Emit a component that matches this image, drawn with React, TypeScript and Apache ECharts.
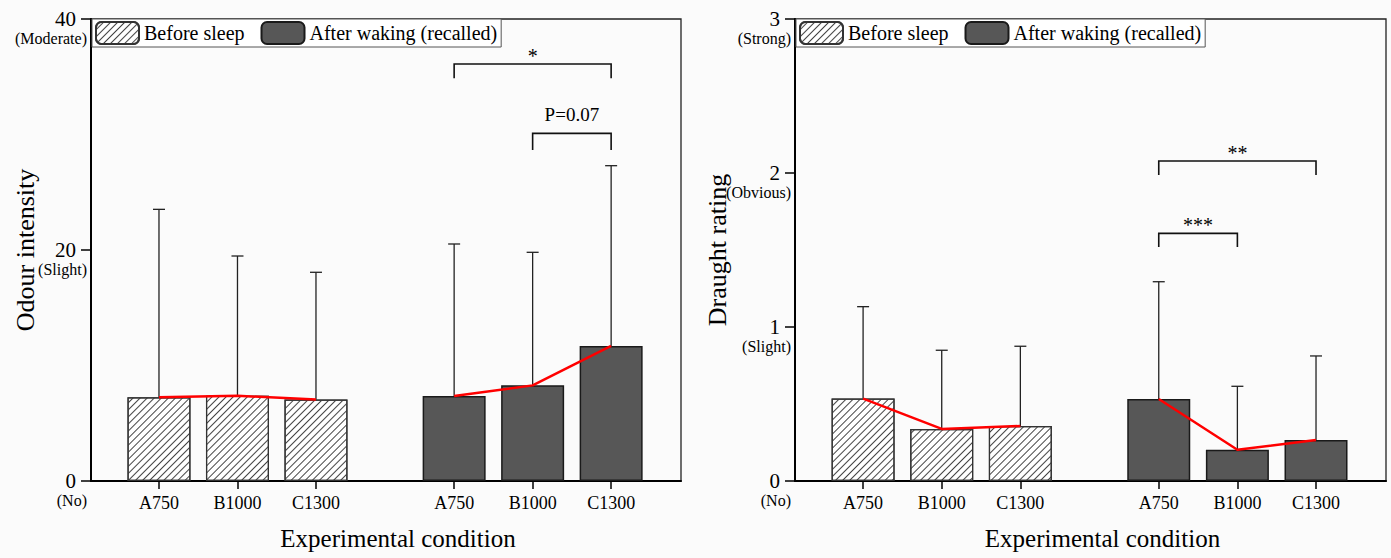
import React, { useEffect, useRef } from 'react';
import * as echarts from 'echarts';

// ---------- data ----------
const categories = ['A750', 'B1000', 'C1300'];
const seriesNames = ['Before sleep', 'After waking (recalled)'];

// Odour intensity (mean, SD shown as upper error bar)
const odourBefore = [7.25, 7.38, 7.05];
const odourBeforeSD = [16.27, 12.1, 11.02];
const odourAfter = [7.36, 8.28, 11.69];
const odourAfterSD = [13.16, 11.52, 15.61];

// Draught rating
const draughtBefore = [0.535, 0.338, 0.357];
const draughtBeforeSD = [0.597, 0.511, 0.518];
const draughtAfter = [0.532, 0.203, 0.266];
const draughtAfterSD = [0.762, 0.412, 0.546];

const odourTicks = [0, 20, 40];
const odourTickWords = ['(No)', '(Slight)', '(Moderate)'];
const draughtTicks = [0, 1, 2, 3];
const draughtTickWords = ['(No)', '(Slight)', '(Obvious)', '(Strong)'];

// significance brackets within the "after waking" group (category indices)
const odourBrackets = [
  { from: 0, to: 2, level: 36.1, foot: 34.87, text: '*' },
  { from: 1, to: 2, level: 30.1, foot: 28.66, text: 'P=0.07' },
];
const draughtBrackets = [
  { from: 0, to: 2, level: 2.078, foot: 1.987, text: '**' },
  { from: 0, to: 1, level: 1.608, foot: 1.519, text: '***' },
];

// ---------- layout ----------
const FONT = '"Liberation Serif", "Times New Roman", serif';
const groupStart = [1, 4.76];
const pos = (g: number, i: number) => groupStart[g] + i;
const allPositions = [0, 1].flatMap((g) => categories.map((_, i) => pos(g, i)));
const X_MIN = 0.134;
const X_MAX = 7.65;

function labelForPos(v: number) {
  for (let g = 0; g < 2; g++) {
    for (let i = 0; i < categories.length; i++) {
      if (Math.abs(pos(g, i) - v) < 1e-6) return categories[i];
    }
  }
  return '';
}

function buildPanel(
  idx: number,
  yName: string,
  yNameGap: number,
  yMax: number,
  yInterval: number,
  ticks: number[],
  words: string[],
  before: number[],
  beforeSD: number[],
  after: number[],
  afterSD: number[],
  brackets: { from: number; to: number; level: number; foot: number; text: string }[]
) {
  const xAxis = {
    type: 'value',
    gridIndex: idx,
    min: X_MIN,
    max: X_MAX,
    splitLine: { show: false },
    axisLine: { show: true, onZero: false, lineStyle: { color: '#000', width: 2 } },
    axisTick: {
      show: true,
      customValues: allPositions,
      length: 8,
      lineStyle: { color: '#000', width: 1.5 },
    },
    axisLabel: {
      customValues: allPositions,
      formatter: (v: number) => labelForPos(v),
      fontFamily: FONT,
      fontSize: 18,
      color: '#000',
      margin: 13,
    },
    name: 'Experimental condition',
    nameLocation: 'middle',
    nameGap: 45,
    nameMoveOverlap: false,
    nameTextStyle: { fontFamily: FONT, fontSize: 25, color: '#000', padding: [0, 0, 0, 24] },
  };
  const yAxis = {
    type: 'value',
    gridIndex: idx,
    min: 0,
    max: yMax,
    interval: yInterval,
    splitLine: { show: false },
    axisLine: { show: true, lineStyle: { color: '#000', width: 2 } },
    axisTick: { show: true, length: 10, lineStyle: { color: '#000', width: 1.5 } },
    axisLabel: {
      margin: 4,
      padding: [16, 0, 0, 0],
      formatter: (v: number) => {
        const i = ticks.indexOf(v);
        return `{a|${v}}\n{b|${i >= 0 ? words[i] : ''}}`;
      },
      rich: {
        a: { fontFamily: FONT, fontSize: 21, lineHeight: 22, color: '#000', padding: [0, 11, 0, 0] },
        b: { fontFamily: FONT, fontSize: 16, lineHeight: 16, color: '#000' },
      },
    },
    name: yName,
    nameLocation: 'middle',
    nameGap: yNameGap,
    nameRotate: 90,
    nameMoveOverlap: false,
    nameTextStyle: { fontFamily: FONT, fontSize: 26, color: '#000' },
  };

  const errData = [
    ...before.map((v, i) => [pos(0, i), v, v + beforeSD[i]]),
    ...after.map((v, i) => [pos(1, i), v, v + afterSD[i]]),
  ];

  const series: any[] = [
    {
      name: seriesNames[0],
      type: 'bar',
      xAxisIndex: idx,
      yAxisIndex: idx,
      barWidth: 63,
      barGap: '-100%',
      z: 2,
      data: before.map((v, i) => [pos(0, i), v]),
      itemStyle: {
        color: '#ffffff',
        borderColor: '#333',
        borderWidth: 1.2,
        decal: {
          symbol: 'rect',
          symbolSize: 1,
          dashArrayX: [1, 0],
          dashArrayY: [1, 3.5],
          rotation: -Math.PI / 4,
          color: '#444',
        },
      },
    },
    {
      name: seriesNames[1],
      type: 'bar',
      xAxisIndex: idx,
      yAxisIndex: idx,
      barWidth: 63,
      barGap: '-100%',
      z: 2,
      data: after.map((v, i) => [pos(1, i), v]),
      itemStyle: { color: '#575757', borderColor: '#1a1a1a', borderWidth: 1.5 },
    },
    {
      type: 'custom',
      xAxisIndex: idx,
      yAxisIndex: idx,
      z: 3,
      clip: false,
      silent: true,
      encode: { x: 0, y: [1, 2] },
      data: errData,
      renderItem: (_p: any, api: any) => {
        const x = api.value(0);
        const p0 = api.coord([x, api.value(1)]);
        const p1 = api.coord([x, api.value(2)]);
        const st = { stroke: '#222', lineWidth: 1.3 };
        return {
          type: 'group',
          children: [
            { type: 'line', shape: { x1: p0[0], y1: p0[1], x2: p1[0], y2: p1[1] }, style: st },
            { type: 'line', shape: { x1: p1[0] - 6, y1: p1[1], x2: p1[0] + 6, y2: p1[1] }, style: st },
          ],
        };
      },
    },
    ...[before, after].map((vals, g) => ({
      type: 'line',
      xAxisIndex: idx,
      yAxisIndex: idx,
      z: 4,
      symbol: 'none',
      silent: true,
      data: vals.map((v, i) => [pos(g, i), v]),
      lineStyle: { color: '#ff0000', width: 2.5 },
    })),
    {
      type: 'custom',
      xAxisIndex: idx,
      yAxisIndex: idx,
      z: 5,
      clip: false,
      silent: true,
      data: brackets.map((b) => [pos(1, b.from), pos(1, b.to), b.level, b.foot]),
      renderItem: (p: any, api: any) => {
        const b = brackets[p.dataIndex];
        const a0 = api.coord([api.value(0), api.value(3)]);
        const a1 = api.coord([api.value(0), api.value(2)]);
        const b1 = api.coord([api.value(1), api.value(2)]);
        const b0 = api.coord([api.value(1), api.value(3)]);
        const isStar = /^\*+$/.test(b.text);
        return {
          type: 'group',
          children: [
            {
              type: 'polyline',
              shape: { points: [a0, a1, b1, b0] },
              style: { stroke: '#111', lineWidth: 1.6, fill: 'none' },
            },
            {
              type: 'text',
              x: (a1[0] + b1[0]) / 2,
              y: a1[1] - (isStar ? 8 : 19),
              style: {
                text: b.text,
                fontFamily: FONT,
                fontSize: isStar ? 20 : 19,
                fill: '#000',
                align: 'center',
                verticalAlign: 'middle',
              },
            },
          ],
        };
      },
    },
  ];
  return { xAxis, yAxis, series };
}

export default function App() {
  const ref = useRef<HTMLDivElement>(null);
  useEffect(() => {
    if (!ref.current) return;
    const chart = echarts.init(ref.current, undefined, { renderer: 'svg' });
    const p0 = buildPanel(0, 'Odour intensity', 53, 40, 20, odourTicks, odourTickWords,
      odourBefore, odourBeforeSD, odourAfter, odourAfterSD, odourBrackets);
    const p1 = buildPanel(1, 'Draught rating', 65, 3, 1, draughtTicks, draughtTickWords,
      draughtBefore, draughtBeforeSD, draughtAfter, draughtAfterSD, draughtBrackets);
    const legendBase = {
      data: seriesNames,
      top: 19,
      orient: 'horizontal',
      itemWidth: 43,
      itemHeight: 22,
      itemGap: 16,
      padding: [2, 4, 2, 3],
      backgroundColor: '#ffffff',
      borderColor: '#555',
      borderWidth: 1,
      selectedMode: false,
      textStyle: { fontFamily: FONT, fontSize: 20, color: '#000' },
      z: 10,
    };
    chart.setOption({
      animation: false,
      backgroundColor: '#fbfbfb',
      grid: [
        { left: 91, top: 19, width: 590, height: 462, show: true, borderColor: '#222', borderWidth: 1.3, backgroundColor: 'transparent', outerBoundsMode: 'none', containLabel: false },
        { left: 795, top: 19, width: 591, height: 462, show: true, borderColor: '#222', borderWidth: 1.3, backgroundColor: 'transparent', outerBoundsMode: 'none', containLabel: false },
      ],
      legend: [
        { ...legendBase, left: 92 },
        { ...legendBase, left: 796 },
      ],
      xAxis: [p0.xAxis, p1.xAxis],
      yAxis: [p0.yAxis, p1.yAxis],
      series: [...p0.series, ...p1.series],
    });
    return () => chart.dispose();
  }, []);
  return (
    <div
      ref={ref}
      style={{ position: 'fixed', left: 0, top: 0, width: 1391, height: 558 }}
    />
  );
}
